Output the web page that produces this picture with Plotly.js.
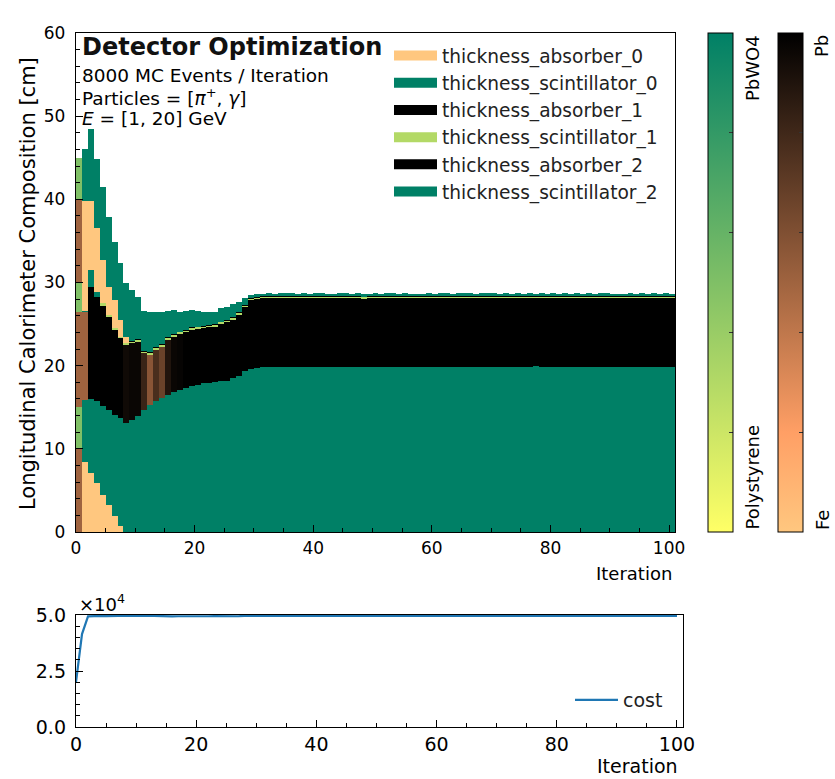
<!DOCTYPE html>
<html><head><meta charset="utf-8">
<script src="https://cdn.plot.ly/plotly-3.0.1.min.js"></script>
<style>body{margin:0;background:#fff}#chart{width:835px;height:779px}</style>
</head><body><div id="chart"></div>
<script>
const iteration = [
0,1,2,3,4,5,6,7,8,9,
10,11,12,13,14,15,16,17,18,19,
20,21,22,23,24,25,26,27,28,29,
30,31,32,33,34,35,36,37,38,39,
40,41,42,43,44,45,46,47,48,49,
50,51,52,53,54,55,56,57,58,59,
60,61,62,63,64,65,66,67,68,69,
70,71,72,73,74,75,76,77,78,79,
80,81,82,83,84,85,86,87,88,89,
90,91,92,93,94,95,96,97,98,99,
100];

const layerNames = ["thickness_absorber_0","thickness_scintillator_0","thickness_absorber_1",
                    "thickness_scintillator_1","thickness_absorber_2","thickness_scintillator_2"];

// thickness per layer [cm]
const absorber0 = [
10,8.45,7.05,5.9,4.5,3.3,1.9,0.7,0,0,
0,0,0,0,0,0,0,0,0,0,
0,0,0,0,0,0,0,0,0,0,
0,0,0,0,0,0,0,0,0,0,
0,0,0,0,0,0,0,0,0,0,
0,0,0,0,0,0,0,0,0,0,
0,0,0,0,0,0,0,0,0,0,
0,0,0,0,0,0,0,0,0,0,
0,0,0,0,0,0,0,0,0,0,
0,0,0,0,0,0,0,0,0,0,
0];
const scintillator0 = [
5,7.45,8.95,9.8,10.7,11.4,12.2,13.0,13.1,13.5,
13.9,14.7,15.3,15.7,16.1,16.5,16.8,17.1,17.3,17.6,
17.7,17.9,17.9,18.0,18.1,18.2,18.5,18.8,19.3,19.6,
19.7,19.8,19.9,19.8,19.8,19.9,19.9,19.8,19.8,19.9,
19.8,19.8,19.9,19.9,19.8,19.8,19.9,19.8,19.8,19.9,
19.9,19.8,19.9,19.9,19.8,19.8,19.9,19.8,19.8,19.9,
19.8,19.9,19.9,19.8,19.8,19.9,19.9,19.8,19.8,19.9,
19.8,19.8,19.9,19.8,19.9,19.8,19.9,20.0,19.9,19.8,
19.9,19.8,19.8,19.9,19.8,19.8,19.9,19.8,19.8,19.9,
19.9,19.8,19.8,19.9,19.8,19.8,19.9,19.9,19.8,19.9,
19.8];
const absorber1 = [
11.5,10.6,13.5,12.6,12.0,11.2,10.2,9.6,9.4,9.2,
9.0,6.8,6.0,6.2,6.2,6.6,6.7,6.7,6.7,6.7,
6.7,6.6,6.7,6.7,6.9,7.0,7.0,7.3,7.7,8.3,
8.3,8.3,8.2,8.3,8.35,8.2,8.25,8.3,8.3,8.2,
8.35,8.3,8.2,8.2,8.3,8.35,8.2,8.3,8.25,8.2,
8.25,8.3,8.2,8.25,8.3,8.35,8.2,8.3,8.3,8.2,
8.3,8.2,8.25,8.3,8.35,8.2,8.25,8.3,8.3,8.25,
8.35,8.3,8.2,8.3,8.25,8.3,8.2,8.1,8.25,8.3,
8.2,8.3,8.35,8.2,8.3,8.3,8.25,8.3,8.35,8.2,
8.2,8.3,8.3,8.25,8.3,8.35,8.2,8.2,8.3,8.25,
8.3];
const scintillator1 = [
3.5,0.1,2.0,0.5,0.3,0.2,0.2,0.2,0.2,0.2,
0.2,0.2,0.2,0.2,0.2,0.2,0.2,0.2,0.2,0.2,
0.2,0.2,0.2,0.2,0.2,0.2,0.2,0.2,0.2,0.15,
0.15,0.15,0.15,0.15,0.15,0.15,0.15,0.15,0.15,0.15,
0.15,0.15,0.15,0.15,0.15,0.15,0.15,0.15,0.15,0.15,
0.15,0.15,0.15,0.15,0.15,0.15,0.15,0.15,0.15,0.15,
0.15,0.15,0.15,0.15,0.15,0.15,0.15,0.15,0.15,0.15,
0.15,0.15,0.15,0.15,0.15,0.15,0.15,0.15,0.15,0.15,
0.15,0.15,0.15,0.15,0.15,0.15,0.15,0.15,0.15,0.15,
0.15,0.15,0.15,0.15,0.15,0.15,0.15,0.15,0.15,0.15,
0.15];
const absorber2 = [
10,13.2,8.3,7.7,5.2,3.4,3.4,2.0,0.8,0.1,
0.1,0.1,0.1,0.1,0.1,0.1,0.1,0.1,0.1,0.1,
0.1,0.1,0.1,0.1,0.1,0.1,0.1,0.1,0.1,0.1,
0.1,0.1,0.1,0.1,0.1,0.1,0.1,0.1,0.1,0.1,
0.1,0.1,0.1,0.1,0.1,0.1,0.1,0.1,0.1,0.1,
0.1,0.1,0.1,0.1,0.1,0.1,0.1,0.1,0.1,0.1,
0.1,0.1,0.1,0.1,0.1,0.1,0.1,0.1,0.1,0.1,
0.1,0.1,0.1,0.1,0.1,0.1,0.1,0.1,0.1,0.1,
0.1,0.1,0.1,0.1,0.1,0.1,0.1,0.1,0.1,0.1,
0.1,0.1,0.1,0.1,0.1,0.1,0.1,0.1,0.1,0.1,
0.1];
const scintillator2 = [
5,6.3,8.7,8.4,8.8,8.4,7.0,6.8,6.4,6.1,
5.1,4.8,4.9,4.2,3.9,3.2,2.9,2.4,2.3,2.1,
1.9,1.7,1.6,1.4,1.6,1.6,1.6,1.2,0.8,0.35,
0.35,0.3,0.35,0.3,0.3,0.35,0.3,0.3,0.4,0.3,
0.3,0.35,0.3,0.3,0.35,0.3,0.3,0.35,0.3,0.3,
0.3,0.3,0.35,0.3,0.3,0.35,0.3,0.3,0.3,0.35,
0.3,0.35,0.3,0.3,0.3,0.35,0.3,0.3,0.35,0.3,
0.3,0.3,0.35,0.3,0.3,0.3,0.35,0.3,0.3,0.3,
0.35,0.3,0.3,0.3,0.35,0.3,0.3,0.3,0.3,0.35,
0.3,0.3,0.3,0.35,0.3,0.3,0.3,0.35,0.3,0.3,
0.3];

// material of each layer: absorber 0 = Fe ... 1 = Pb ; scintillator 0 = Polystyrene ... 1 = PbWO4
const absorber0Material = [
0.5,0,0,0,0,0,0,0,0,0,
0,0,0,0,0,0,0,0,0,0,
0,0,0,0,0,0,0,0,0,0,
0,0,0,0,0,0,0,0,0,0,
0,0,0,0,0,0,0,0,0,0,
0,0,0,0,0,0,0,0,0,0,
0,0,0,0,0,0,0,0,0,0,
0,0,0,0,0,0,0,0,0,0,
0,0,0,0,0,0,0,0,0,0,
0,0,0,0,0,0,0,0,0,0,
0];
const scintillator0Material = [
0.5,1,1,1,1,1,1,1,1,1,
1,1,1,1,1,1,1,1,1,1,
1,1,1,1,1,1,1,1,1,1,
1,1,1,1,1,1,1,1,1,1,
1,1,1,1,1,1,1,1,1,1,
1,1,1,1,1,1,1,1,1,1,
1,1,1,1,1,1,1,1,1,1,
1,1,1,1,1,1,1,1,1,1,
1,1,1,1,1,1,1,1,1,1,
1,1,1,1,1,1,1,1,1,1,
1];
const absorber1Material = [
0.5,0.5,1,1,1,1,1,1,0.95,0.97,
0.97,0.82,0.57,0.77,0.67,0.9,0.97,0.98,1,1,
1,1,1,1,1,1,1,1,1,1,
1,1,1,1,1,1,1,1,1,1,
1,1,1,1,1,1,1,1,1,1,
1,1,1,1,1,1,1,1,1,1,
1,1,1,1,1,1,1,1,1,1,
1,1,1,1,1,1,1,1,1,1,
1,1,1,1,1,1,1,1,1,1,
1,1,1,1,1,1,1,1,1,1,
1];
const scintillator1Material = [
0.5,1,1,1,0.3,0.3,0.3,0.3,0.3,0.3,
0.3,0.3,0.3,0.3,0.3,0.3,0.3,0.3,0.3,0.3,
0.3,0.3,0.3,0.3,0.3,0.3,0.3,0.3,0.3,0.3,
0.3,0.3,0.3,0.3,0.3,0.3,0.3,0.3,0.3,0.3,
0.3,0.3,0.3,0.3,0.3,0.3,0.3,0.3,0.3,0.3,
0.3,0.3,0.3,0.3,0.3,0.3,0.3,0.3,0.3,0.3,
0.3,0.3,0.3,0.3,0.3,0.3,0.3,0.3,0.3,0.3,
0.3,0.3,0.3,0.3,0.3,0.3,0.3,0.3,0.3,0.3,
0.3,0.3,0.3,0.3,0.3,0.3,0.3,0.3,0.3,0.3,
0.3,0.3,0.3,0.3,0.3,0.3,0.3,0.3,0.3,0.3,
0.3];
const absorber2Material = [
0.5,0,0,0,0,0,0,0,0,1,
1,1,1,1,1,1,1,1,1,1,
1,1,1,1,1,1,1,1,1,1,
1,1,1,1,1,1,1,1,1,1,
1,1,1,1,1,1,1,1,1,1,
1,1,1,1,1,1,1,1,1,1,
1,1,1,1,1,1,1,1,1,1,
1,1,1,1,1,1,1,1,1,1,
1,1,1,1,1,1,1,1,1,1,
1,1,1,1,1,1,1,1,1,1,
1];
const scintillator2Material = [
0.5,1,1,1,1,1,1,1,1,1,
1,1,1,1,1,1,1,1,1,1,
1,1,1,1,1,1,1,1,1,1,
1,1,1,1,1,1,1,1,1,1,
1,1,1,1,1,1,1,1,1,1,
1,1,1,1,1,1,1,1,1,1,
1,1,1,1,1,1,1,1,1,1,
1,1,1,1,1,1,1,1,1,1,
1,1,1,1,1,1,1,1,1,1,
1,1,1,1,1,1,1,1,1,1,
1];

const legendColors = ["#ffc77f","#008066","#000000","#b3d966","#000000","#008066"];

const cost = [
20000,41500,49400,49650,49600,49500,49650,49600,49550,49650,
49650,49600,49650,49600,49450,49500,49400,49450,49400,49500,
49600,49550,49450,49500,49450,49550,49500,49450,49600,49550,
49650,49650,49650,49600,49650,49650,49600,49500,49500,49450,
49550,49650,49650,49600,49650,49550,49500,49550,49600,49650,
49650,49650,49650,49650,49600,49650,49650,49650,49550,49500,
49500,49550,49500,49600,49650,49650,49600,49550,49650,49650,
49600,49550,49650,49650,49650,49600,49650,49650,49650,49600,
49550,49550,49650,49600,49650,49500,49500,49550,49650,49600,
49550,49500,49550,49600,49650,49650,49600,49550,49650,49650,
49650];

// ---------- build ----------
const W = 835, H = 779;
const px = v => v / W;
const py = v => 1 - v / H;
const FONT = "DejaVu Sans, Verdana, sans-serif";

// copper colormap (Fe light -> Pb black) and summer colormap (Polystyrene yellow -> PbWO4 green)
const absorberScale = [[0, "#ffc77f"], [0.2, "#ff9f65"], [1, "#000000"]];
const scintScale = [[0, "#ffff66"], [1, "#008066"]];

const layers = [
  {y: absorber0, m: absorber0Material, scale: absorberScale},
  {y: scintillator0, m: scintillator0Material, scale: scintScale},
  {y: absorber1, m: absorber1Material, scale: absorberScale},
  {y: scintillator1, m: scintillator1Material, scale: scintScale},
  {y: absorber2, m: absorber2Material, scale: absorberScale},
  {y: scintillator2, m: scintillator2Material, scale: scintScale}
];

function colorbar(xLeft) {
  return {
    thickness: 25, thicknessmode: "pixels",
    len: 499, lenmode: "pixels",
    x: px(xLeft), xanchor: "left", xref: "paper",
    y: py(33), yanchor: "top", yref: "paper",
    xpad: 0, ypad: 0,
    outlinewidth: 1, outlinecolor: "#000",
    tickmode: "array", tickvals: [0.2, 0.4, 0.6, 0.8],
    ticks: "inside", ticklen: 4, tickcolor: "#333", tickwidth: 1,
    showticklabels: false
  };
}

const traces = layers.map((L, i) => {
  const marker = {
    color: L.m, colorscale: L.scale, cmin: 0, cmax: 1,
    line: {width: 0}
  };
  if (i === 1) { marker.showscale = true; marker.colorbar = colorbar(708); }
  else if (i === 2) { marker.showscale = true; marker.colorbar = colorbar(778); }
  else { marker.showscale = false; }
  return {
    type: "bar", x: iteration, y: L.y, offset: 0, width: 1,
    marker: marker, showlegend: false, hoverinfo: "skip",
    xaxis: "x", yaxis: "y", name: layerNames[i]
  };
});

layerNames.forEach((n, i) => {
  traces.push({
    type: "scatter", mode: "lines", x: [null], y: [null], name: n,
    line: {color: legendColors[i], width: 11},
    xaxis: "x", yaxis: "y", legend: "legend", hoverinfo: "skip"
  });
});

traces.push({
  type: "scatter", mode: "lines", x: iteration, y: cost, name: "cost",
  line: {color: "#1f77b4", width: 2.2}, xaxis: "x2", yaxis: "y2", legend: "legend2"
});

const axisCommon = {
  showgrid: false, zeroline: false, showline: true, mirror: true,
  linecolor: "#000", linewidth: 1.2,
  ticks: "inside", ticklen: 7, tickwidth: 1, tickcolor: "#000",
  tickfont: {family: FONT, size: 17, color: "#000"},
  fixedrange: true
};

const ann = (text, x, y, opts) => Object.assign({
  text: text, x: px(x), y: py(y), xref: "paper", yref: "paper",
  showarrow: false, font: {family: FONT, size: 18.5, color: "#000"}
}, opts || {});

const layout = {
  width: W, height: H,
  margin: {l: 0, r: 0, t: 0, b: 0},
  paper_bgcolor: "#fff", plot_bgcolor: "#fff",
  barmode: "stack", bargap: 0,
  font: {family: FONT, color: "#000"},
  xaxis: Object.assign({}, axisCommon, {
    domain: [px(76), px(675)], range: [0, 101], anchor: "y",
    tickmode: "array", tickvals: [0, 20, 40, 60, 80, 100],
    minor: {dtick: 5, tick0: 0, ticks: "inside", ticklen: 4, tickcolor: "#000"}
  }),
  yaxis: Object.assign({}, axisCommon, {
    domain: [py(532), py(33)], range: [0, 60], anchor: "x",
    tickmode: "linear", tick0: 0, dtick: 10, ticklabelstandoff: 6,
    minor: {dtick: 2, tick0: 0, ticks: "inside", ticklen: 4, tickcolor: "#000"}
  }),
  xaxis2: Object.assign({}, axisCommon, {
    domain: [px(76), px(683)], range: [0, 101], anchor: "y2",
    tickmode: "array", tickvals: [0, 20, 40, 60, 80, 100],
    tickfont: {family: FONT, size: 19, color: "#000"},
    minor: {dtick: 5, tick0: 0, ticks: "inside", ticklen: 4, tickcolor: "#000"}
  }),
  yaxis2: Object.assign({}, axisCommon, {
    domain: [py(727), py(615)], range: [0, 50000], anchor: "x2",
    tickmode: "array", tickvals: [0, 25000, 50000], ticktext: ["0.0", "2.5", "5.0"],
    tickfont: {family: FONT, size: 19, color: "#000"}, ticklabelstandoff: 5,
    minor: {dtick: 5000, tick0: 0, ticks: "inside", ticklen: 4, tickcolor: "#000"}
  }),
  legend: {
    x: px(389), y: py(37), xanchor: "left", yanchor: "top",
    bgcolor: "rgba(0,0,0,0)", borderwidth: 0,
    font: {family: FONT, size: 18.6, color: "#222"},
    itemwidth: 43, traceorder: "normal"
  },
  legend2: {
    x: px(570), y: py(700), xanchor: "left", yanchor: "middle",
    bgcolor: "rgba(0,0,0,0)", borderwidth: 0,
    font: {family: FONT, size: 19, color: "#222"},
    itemwidth: 43
  },
  annotations: [
    ann("<b>Detector Optimization</b>", 80, 47, {xanchor: "left", yanchor: "middle", font: {family: FONT, size: 24, color: "#111"}}),
    ann("8000 MC Events / Iteration", 80, 75, {xanchor: "left", yanchor: "middle"}),
    ann("Particles = [<i>π</i><sup>+</sup>, <i>γ</i>]", 80, 97, {xanchor: "left", yanchor: "middle"}),
    ann("<i>E</i> = [1, 20] GeV", 80, 118, {xanchor: "left", yanchor: "middle"}),
    ann("Longitudinal Calorimeter Composition [cm]", 28, 284, {textangle: -90, xanchor: "center", yanchor: "middle", font: {family: FONT, size: 21, color: "#000"}}),
    ann("Iteration", 674, 573, {xanchor: "right", yanchor: "middle", font: {family: FONT, size: 18, color: "#000"}}),
    ann("Iteration", 680, 779, {xanchor: "right", yanchor: "bottom", font: {family: FONT, size: 19, color: "#000"}}),
    ann("×10<sup>4</sup>", 77, 603, {xanchor: "left", yanchor: "middle", font: {family: FONT, size: 18, color: "#000"}}),
    ann("PbWO4", 752, 33, {textangle: -90, xanchor: "center", yanchor: "top", font: {family: FONT, size: 18, color: "#000"}}),
    ann("Polystyrene", 752, 532, {textangle: -90, xanchor: "center", yanchor: "bottom", font: {family: FONT, size: 18, color: "#000"}}),
    ann("Pb", 822, 33, {textangle: -90, xanchor: "center", yanchor: "top", font: {family: FONT, size: 18, color: "#000"}}),
    ann("Fe", 822, 532, {textangle: -90, xanchor: "center", yanchor: "bottom", font: {family: FONT, size: 18, color: "#000"}})
  ]
};

Plotly.newPlot("chart", traces, layout, {staticPlot: true, displayModeBar: false});
</script>
</body></html>
